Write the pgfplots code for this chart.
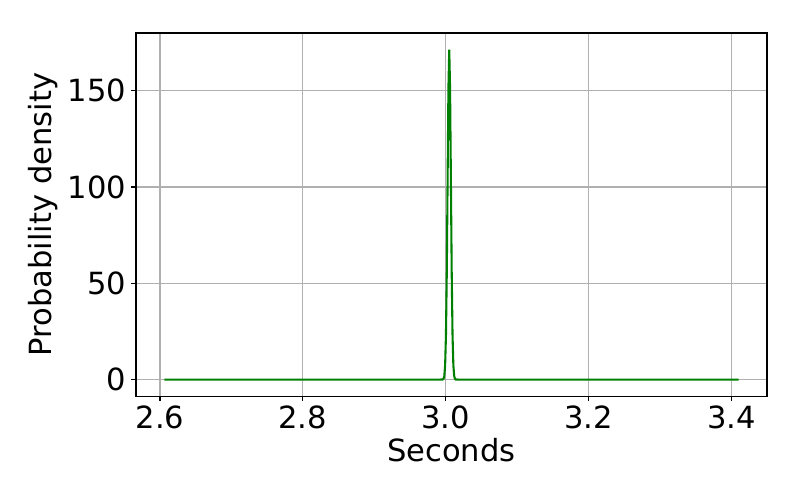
\documentclass[border=0pt]{standalone}
\usepackage{pgfplots}
\pgfplotsset{compat=1.18}
\usepackage{fontspec}
\setmainfont{DejaVu Sans}
\begin{document}
\begin{tikzpicture}
\path[use as bounding box] (-97.9pt,-74.9pt) rectangle (478.1pt,285.2pt);
\begin{axis}[
scale only axis,
width=454.3pt,
height=261.4pt,
xmin=2.5664, xmax=3.4498,
ymin=-8.57, ymax=179.97,
xtick={2.6,2.8,3.0,3.2,3.4},
xticklabels={2.6,2.8,3.0,3.2,3.4},
ytick={0,50,100,150},
tick align=outside,
tick pos=left,
major tick length=3.5pt,
grid=major,
grid style={color=black!31, line width=0.8pt},
axis line style={line width=0.8pt},
every tick/.style={black, line width=0.8pt},
font=\fontsize{22}{26}\selectfont,
/pgf/number format/assume math mode=true,
xlabel=Seconds,
ylabel=Probability density,
]
\addplot[color=green!50!black, line width=1.5pt] coordinates {
(2.606, 0)
(2.9900, 0)
(2.9958, 0.06)
(2.99695, 0.37)
(2.9981, 1.9)
(2.99925, 7.5)
(3.0004, 23.2)
(3.00155, 55.5)
(3.0027, 104.0)
(3.00385, 151.3)
(3.0050, 171.4)
(3.00615, 151.3)
(3.0073, 104.0)
(3.00845, 55.5)
(3.0096, 23.2)
(3.01075, 7.5)
(3.0119, 1.9)
(3.01305, 0.37)
(3.0142, 0.06)
(3.0200, 0)
(3.410, 0)
};
\end{axis}
\end{tikzpicture}
\end{document}
